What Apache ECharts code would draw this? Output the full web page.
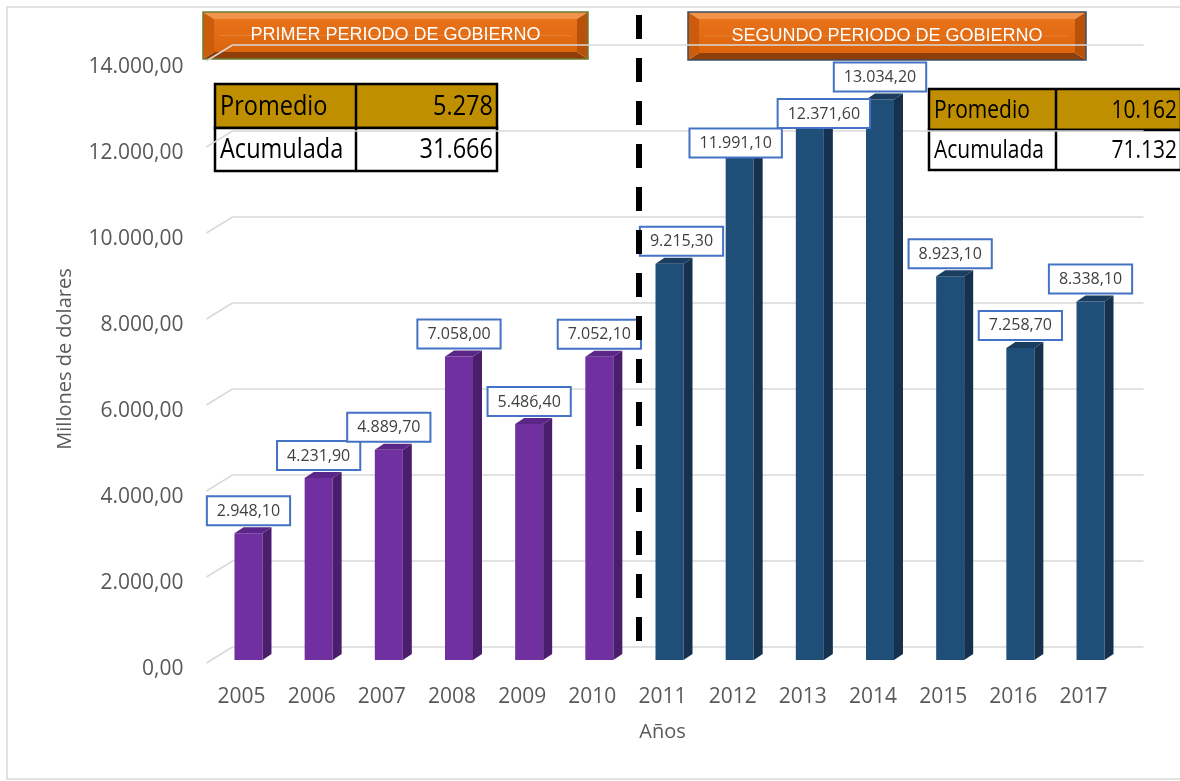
<!DOCTYPE html>
<html>
<head>
<meta charset="utf-8">
<title>Millones de dolares por año</title>
<style>
  html, body { margin: 0; padding: 0; background: #fff; }
  #chart { width: 1180px; height: 781px; }
</style>
<script src="https://cdn.jsdelivr.net/npm/echarts@6/dist/echarts.min.js"></script>
</head>
<body>
<div id="chart"></div>
<script>
// datos
const years = ['2005', '2006', '2007', '2008', '2009', '2010', '2011', '2012', '2013', '2014', '2015', '2016', '2017']
const values = [2948.1, 4231.9, 4889.7, 7058.0, 5486.4, 7052.1, 9215.3, 11991.1, 12371.6, 13034.2, 8923.1, 7258.7, 8338.1]
const periodOf = [0, 0, 0, 0, 0, 0, 1, 1, 1, 1, 1, 1, 1]
const yTicks = [0, 2000, 4000, 6000, 8000, 10000, 12000, 14000]
const periodTitles = ['PRIMER PERIODO DE GOBIERNO', 'SEGUNDO PERIODO DE GOBIERNO']
const statNames = ['Promedio', 'Acumulada']

// estilo
const barColors = [
  { front: '#7030A0', side: '#4A1E6C', top: '#5A2687' },
  { front: '#1F4E79', side: '#15314D', top: '#1A3D60' },
]
// labels that Excel had dragged a bit: [dx, dy]
const labelShift = { 6: [12, 0], 7: [-4, 21], 8: [14, 8] }

function fmt(v, d) {
  const [i, f] = v.toFixed(d).split('.')
  return i.replace(/\B(?=(\d{3})+(?!\d))/g, '.') + (f ? ',' + f : '')
}

function periodStats(p) {
  const vals = values.filter((_, i) => periodOf[i] === p)
  const sum = vals.reduce((a, b) => a + b, 0)
  return [fmt(sum / vals.length, 0), fmt(sum, 0)]
}

function renderGridLine(params, api) {
  const cs = params.coordSys
  const y = api.coord([0, api.value(1)])[1]
  return {
    type: 'polyline',
    silent: true,
    shape: { points: [[cs.x, y + 3], [cs.x + 26, y - 13], [cs.x + cs.width + 25, y - 13]] },
    style: { stroke: '#d9d9d9', lineWidth: 1.5, fill: null },
  }
}

function renderBar(params, api) {
  const i = api.value(0)
  const top = api.coord([i, api.value(1)])
  const base = api.coord([i, 0])
  const x0 = top[0] - 7, x1 = top[0] + 21, dx = 9, dy = 6
  const c = barColors[periodOf[i]]
  return {
    type: 'group',
    children: [
      { type: 'rect', shape: { x: x0, y: top[1], width: x1 - x0, height: base[1] - top[1] }, style: { fill: c.front } },
      { type: 'polygon', shape: { points: [[x1, top[1]], [x1 + dx, top[1] - dy], [x1 + dx, base[1] - dy], [x1, base[1]]] }, style: { fill: c.side } },
      { type: 'polygon', shape: { points: [[x0, top[1]], [x0 + dx, top[1] - dy], [x1 + dx, top[1] - dy], [x1, top[1]]] }, style: { fill: c.top } },
    ],
  }
}

function renderLabel(params, api) {
  const i = api.value(0)
  const v = api.value(1)
  const p = api.coord([i, v])
  const s = labelShift[i] || [0, 0]
  return {
    type: 'text',
    x: p[0] + 7 + s[0],
    y: p[1] - 9 + s[1],
    style: {
      text: fmt(v, 2),
      align: 'center',
      verticalAlign: 'bottom',
      fill: '#404040',
      fontSize: 16,
      fontFamily: 'Open Sans',
      backgroundColor: '#fff',
      borderColor: '#4472C4',
      borderWidth: 2,
      padding: [6, 9, 5, 9],
    },
  }
}

function banner(x, y, w, h, edge, text) {
  const bx = 11, by = 7
  const X = x + w, Y = y + h
  const face = (pts, fill) => ({ type: 'polygon', shape: { points: pts }, style: { fill } })
  return {
    type: 'group',
    z: 10,
    children: [
      face([[x, y], [X, y], [X - bx, y + by], [x + bx, y + by]], '#F2934C'),
      face([[x, Y], [X, Y], [X - bx, Y - by], [x + bx, Y - by]], '#8F3D09'),
      face([[x, y], [x + bx, y + by], [x + bx, Y - by], [x, Y]], '#CC5C0C'),
      face([[X, y], [X - bx, y + by], [X - bx, Y - by], [X, Y]], '#B8520B'),
      {
        type: 'rect',
        shape: { x: x + bx, y: y + by, width: w - 2 * bx, height: h - 2 * by },
        style: {
          fill: new echarts.graphic.LinearGradient(0, 0, 0, 1, [
            { offset: 0, color: '#E8721A' },
            { offset: 1, color: '#DC650C' },
          ]),
        },
      },
      {
        type: 'line',
        shape: { x1: x + bx + 6, y1: y + h / 2, x2: X - bx - 6, y2: y + h / 2 },
        style: { stroke: 'rgba(255,170,110,0.35)', lineWidth: 1 },
      },
      {
        type: 'rect',
        shape: { x, y, width: w, height: h },
        style: { fill: null, stroke: edge, lineWidth: 1.5 },
      },
      {
        type: 'text',
        style: {
          x: x + w / 2, y: y + h / 2, text,
          align: 'center', verticalAlign: 'middle',
          fill: '#fff', fontSize: 18, fontFamily: 'Liberation Sans',
        },
      },
    ],
  }
}

function statTable(x, y, w, split, rowH, fontSize, stats) {
  const children = []
  statNames.forEach((name, r) => {
    const ry = y + rowH[0] * r
    const h = rowH[r]
    children.push({
      type: 'rect',
      shape: { x, y: ry, width: w, height: h },
      style: { fill: r === 0 ? '#BF8F00' : '#fff', stroke: '#000', lineWidth: 2.5 },
    })
    children.push({
      type: 'text', x: x + 5, y: ry + h / 2 + 1, scaleX: 0.84,
      style: { text: name, align: 'left', verticalAlign: 'middle', fill: '#000', fontSize, fontFamily: 'Open Sans' },
    })
    children.push({
      type: 'text', x: x + w - 4, y: ry + h / 2 + 1, scaleX: 0.84,
      style: { text: stats[r], align: 'right', verticalAlign: 'middle', fill: '#000', fontSize, fontFamily: 'Open Sans' },
    })
  })
  children.push({
    type: 'line',
    shape: { x1: x + split, y1: y, x2: x + split, y2: y + rowH[0] + rowH[1] },
    style: { stroke: '#000', lineWidth: 2.5 },
  })
  return { type: 'group', z: 10, children }
}

const chart = echarts.init(document.getElementById('chart'))
const barData = values.map((v, i) => [i, v])

chart.setOption({
  animation: false,
  textStyle: { fontFamily: 'Open Sans' },
  grid: { left: 206.4, right: 61.4, top: 58, bottom: 121 },
  xAxis: {
    type: 'category',
    data: years,
    axisLine: { show: false },
    axisTick: { show: false },
    axisLabel: { color: '#595959', fontSize: 21, margin: 27 },
    name: 'Años',
    nameLocation: 'middle',
    nameGap: 62,
    nameTextStyle: { color: '#595959', fontSize: 20 },
  },
  yAxis: {
    type: 'value',
    min: 0,
    max: 14000,
    interval: 2000,
    splitLine: { show: false },
    axisLine: { show: false },
    axisTick: { show: false },
    axisLabel: {
      color: '#595959', fontSize: 21, margin: 23,
      verticalAlign: 'top', lineHeight: 18,
      formatter: v => fmt(v, 2),
    },
    name: 'Millones de dolares',
    nameLocation: 'middle',
    nameRotate: 90,
    nameGap: 131,
    nameTextStyle: { color: '#595959', fontSize: 20 },
  },
  series: [
    { type: 'custom', z: 1, silent: true, clip: false, renderItem: renderGridLine, data: yTicks.map(t => [0, t]) },
    { type: 'custom', z: 2, clip: false, renderItem: renderBar, data: barData },
    { type: 'custom', z: 3, clip: false, renderItem: renderLabel, data: barData },
  ],
  graphic: [
    {
      type: 'rect', z: 0, silent: true,
      shape: { x: 7, y: 7, width: 1200, height: 772 },
      style: { fill: null, stroke: '#d9d9d9', lineWidth: 1.5 },
    },
    banner(203, 12, 385, 47, '#6B7F35', periodTitles[0]),
    banner(688, 12, 398, 48, '#3E4E60', periodTitles[1]),
    statTable(215, 84, 282, 141, [44, 43], 28, periodStats(0)),
    statTable(929, 89, 252, 127, [41, 40], 25, periodStats(1)),
    {
      type: 'line', z: 20, silent: true,
      shape: { x1: 639, y1: 15, x2: 639, y2: 642 },
      style: { stroke: '#000', lineWidth: 6, lineDash: [24, 19] },
    },
  ],
})
</script>
</body>
</html>
